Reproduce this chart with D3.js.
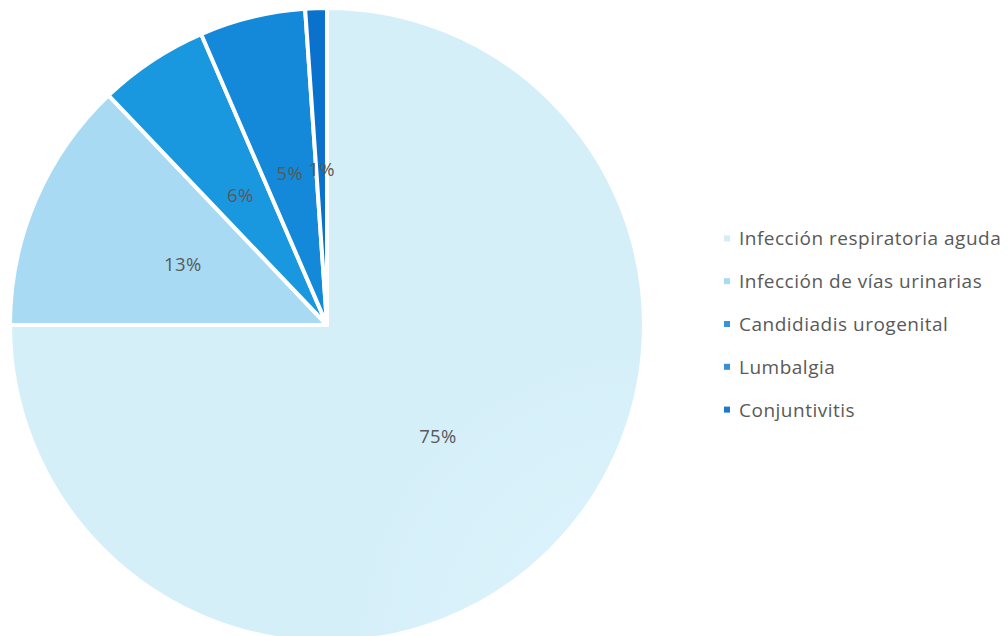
<!DOCTYPE html>
<html><head><meta charset="utf-8">
<script src="https://cdn.jsdelivr.net/npm/d3@7"></script>
<style>html,body{margin:0;padding:0;background:#fff;overflow:hidden}</style>
</head><body>
<svg id="chart" width="1008" height="636"></svg>
<script>
const categories = ["Infección respiratoria aguda","Infección de vías urinarias","Candidiadis urogenital","Lumbalgia","Conjuntivitis"];
const values = [75.0, 12.9, 5.6, 5.4, 1.1];
const labels = ["75%","13%","6%","5%","1%"];
const outerColors = ["#d5eff9","#a8dbf3","#1a98df","#1489da","#0a72cd"];
const innerColors = ["#def4fb","#c6eaf8","#75c4f0","#6dbbec","#4aa4e4"];
const legendColors = ["#d3ecf8","#a9daf3","#3a93d8","#3590d8","#1b7acc"];

const svg = d3.select("#chart");
const cx = 327, cy = 325, R = 317;
const defs = svg.append("defs");
categories.forEach((c,i)=>{
  const g = defs.append("radialGradient").attr("id","g"+i)
    .attr("gradientUnits","userSpaceOnUse").attr("cx",cx).attr("cy",cy).attr("r",R);
  g.append("stop").attr("offset","0%").attr("stop-color",innerColors[i]);
  g.append("stop").attr("offset","100%").attr("stop-color",outerColors[i]);
});
const pie = d3.pie().sort(null).value(d=>d)(values);
const arc = d3.arc().innerRadius(0).outerRadius(R);
const labelArc = d3.arc().innerRadius(R*0.495).outerRadius(R*0.495);
const root = svg.append("g");
root.selectAll("path").data(pie).join("path")
  .attr("transform",`translate(${cx},${cy})`)
  .attr("d",arc)
  .attr("fill",(d,i)=>`url(#g${i})`)
  .attr("stroke","#fff").attr("stroke-width",4).attr("stroke-linejoin","round");
root.selectAll("text.lbl").data(pie).join("text").attr("class","lbl")
  .attr("x",d=>cx+labelArc.centroid(d)[0]).attr("y",d=>cy+labelArc.centroid(d)[1])
  .attr("text-anchor","middle").attr("dominant-baseline","central")
  .attr("font-family","'Open Sans', sans-serif").attr("font-size",18.5).attr("letter-spacing",0.4)
  .attr("fill","#595959").text((d,i)=>labels[i]);

const leg = svg.append("g");
const ly = d3.scaleBand().domain(categories).range([217,431]);
categories.forEach((c,i)=>{
  const y = ly(c)+ly.bandwidth()/2;
  leg.append("rect").attr("x",724).attr("y",y-3).attr("width",6).attr("height",6).attr("fill",legendColors[i]);
  leg.append("text").attr("x",739).attr("y",y).attr("dominant-baseline","central")
    .attr("font-family","'Open Sans', sans-serif").attr("font-size",19).attr("letter-spacing",0.5)
    .attr("fill","#595959").text(c);
});
</script>
</body></html>
